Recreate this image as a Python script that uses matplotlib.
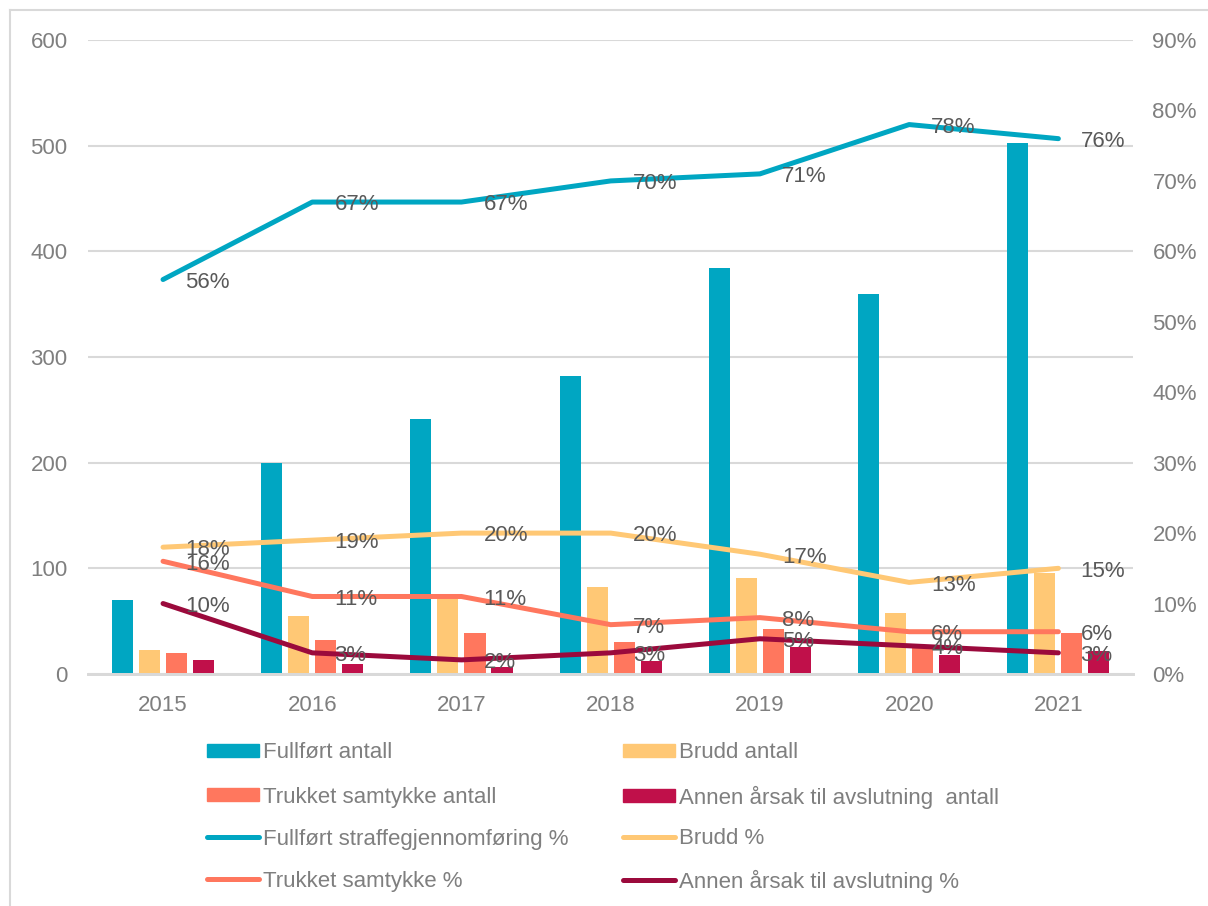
import numpy as np
import matplotlib
matplotlib.use("Agg")
import matplotlib.pyplot as plt
from matplotlib.lines import Line2D
from matplotlib.patches import Patch

plt.rcParams['font.family'] = ['Liberation Sans', 'DejaVu Sans']

years = ['2015', '2016', '2017', '2018', '2019', '2020', '2021']

# antall (left axis)
fullfort_antall = [70, 200, 241, 282, 384, 360, 503]
brudd_antall = [23, 55, 71, 82, 91, 58, 96]
trukket_antall = [20, 32, 39, 30, 43, 27, 39]
annen_antall = [13, 9, 7, 12, 26, 18, 22]

# prosent (right axis)
fullfort_pct = [56, 67, 67, 70, 71, 78, 76]
brudd_pct = [18, 19, 20, 20, 17, 13, 15]
trukket_pct = [16, 11, 11, 7, 8, 6, 6]
annen_pct = [10, 3, 2, 3, 5, 4, 3]

c_full = '#00A6C2'
c_brudd = '#FFC875'
c_trukket = '#FF775E'
c_annen_bar = '#C0104A'
c_annen_line = '#9B0A3C'
grid_c = '#D9D9D9'
tick_c = '#7F7F7F'
lab_c = '#595959'
fs = 16

fig = plt.figure(figsize=(12.08, 9.06), dpi=100)
ax = fig.add_axes([0.0732, 0.2561, 0.8647, 0.6997])
ax2 = ax.twinx()

x = np.arange(len(years))
step = 0.181
w = 0.141
bars = [(fullfort_antall, c_full), (brudd_antall, c_brudd),
        (trukket_antall, c_trukket), (annen_antall, c_annen_bar)]
for i, (vals, col) in enumerate(bars):
    ax.bar(x + (i - 1.5) * step, vals, width=w, color=col, zorder=2)

ax.set_xlim(-0.5, len(years) - 0.5)
ax.set_ylim(0, 600)
ax.set_yticks(range(0, 601, 100))
ax.grid(axis='y', color=grid_c, linewidth=1.5, zorder=0)
ax.set_axisbelow(True)
ax.set_xticks(x)
ax.set_xticklabels(years)

lines = [(fullfort_pct, c_full), (brudd_pct, c_brudd),
         (trukket_pct, c_trukket), (annen_pct, c_annen_line)]
for vals, col in lines:
    ax2.plot(x, vals, color=col, linewidth=3.6, solid_capstyle='round',
             solid_joinstyle='round', zorder=3)
for vals, col in lines:
    for xi, v in zip(x, vals):
        ax2.annotate(f'{v}%', (xi, v), xytext=(16, -2), textcoords='offset points',
                     va='center', ha='left', fontsize=fs, color=lab_c, zorder=5)
ax2.set_ylim(0, 90)
ax2.set_yticks(range(0, 91, 10))
ax2.set_yticklabels([f'{t}%' for t in range(0, 91, 10)])

for a in (ax, ax2):
    for s in ['top', 'left', 'right']:
        a.spines[s].set_visible(False)
    a.spines['bottom'].set_color(grid_c)
    a.spines['bottom'].set_linewidth(2)
    a.tick_params(length=0, labelsize=fs, labelcolor=tick_c)
ax.tick_params(axis='y', pad=15)
ax.tick_params(axis='x', pad=15)
ax2.tick_params(axis='y', pad=14)

# border of chart area
fig.add_artist(Line2D([10 / 1208, 10 / 1208], [0, 1 - 10 / 906],
                      transform=fig.transFigure, color=grid_c, linewidth=1.5))
fig.add_artist(Line2D([10 / 1208, 1], [1 - 10 / 906, 1 - 10 / 906],
                      transform=fig.transFigure, color=grid_c, linewidth=1.5))

# legend: one small legend per entry so rows line up across columns
entries = [
    (Patch(color=c_full), 'Fullført antall'),
    (Patch(color=c_brudd), 'Brudd antall'),
    (Patch(color=c_trukket), 'Trukket samtykke antall'),
    (Patch(color=c_annen_bar), 'Annen årsak til avslutning  antall'),
    (Line2D([], [], color=c_full, linewidth=3.6, solid_capstyle='round'),
     'Fullført straffegjennomføring %'),
    (Line2D([], [], color=c_brudd, linewidth=3.6, solid_capstyle='round'), 'Brudd %'),
    (Line2D([], [], color=c_trukket, linewidth=3.6, solid_capstyle='round'),
     'Trukket samtykke %'),
    (Line2D([], [], color=c_annen_line, linewidth=3.6, solid_capstyle='round'),
     'Annen årsak til avslutning %'),
]
col_x = [207, 623]
row_y = [753, 797, 839, 881]
for k, (h, lab) in enumerate(entries):
    r, c = divmod(k, 2)
    leg = fig.legend([h], [lab], loc='center left',
                     bbox_to_anchor=(col_x[c] / 1208, 1 - row_y[r] / 906),
                     frameon=False, fontsize=fs, handlelength=2.34,
                     handleheight=0.54, handletextpad=0.2,
                     borderaxespad=0, borderpad=0)
    leg.get_texts()[0].set_color(tick_c)

fig.savefig('out.png', dpi=100, facecolor='white')
